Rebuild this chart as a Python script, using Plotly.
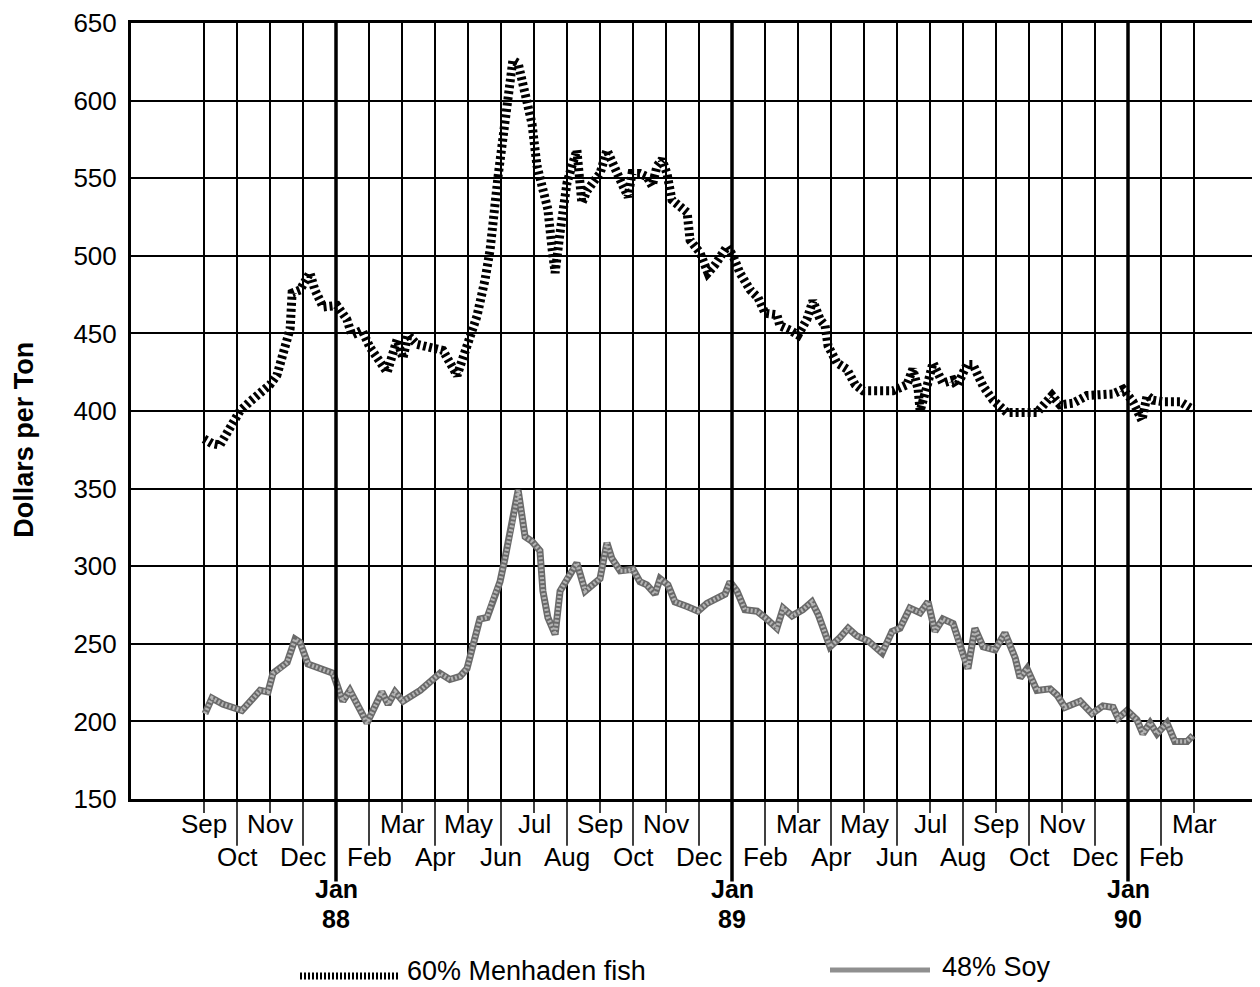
import plotly.graph_objects as go

# x = months since 1 Sep 1987 (0 = Sep 87, 4 = Jan 88, 16 = Jan 89, 28 = Jan 90)
month_names = ["Sep", "Oct", "Nov", "Dec", "Jan", "Feb", "Mar", "Apr", "May", "Jun", "Jul", "Aug",
               "Sep", "Oct", "Nov", "Dec", "Jan", "Feb", "Mar", "Apr", "May", "Jun", "Jul", "Aug",
               "Sep", "Oct", "Nov", "Dec", "Jan", "Feb", "Mar"]
year_labels = {4: "88", 16: "89", 28: "90"}
y_ticks = [150, 200, 250, 300, 350, 400, 450, 500, 550, 600, 650]

fish_month = [0.0, 0.24, 0.48, 0.79, 1.09, 1.39, 2.0, 2.21, 2.61, 2.67, 2.91, 3.21, 3.36, 3.61,
              4.03, 4.33, 4.48, 4.79, 5.03, 5.55, 5.85, 6.03, 6.18, 6.45, 6.85, 7.24, 7.67, 7.97,
              8.27, 8.52, 8.67, 8.91, 9.12, 9.36, 9.52, 9.73, 9.94, 10.09, 10.27, 10.42, 10.55,
              10.64, 10.79, 11.0, 11.15, 11.3, 11.45, 11.61, 11.85, 12.0, 12.21, 12.39, 12.61,
              12.85, 12.97, 13.21, 13.42, 13.58, 13.73, 13.88, 14.03, 14.18, 14.42, 14.64, 14.73,
              15.03, 15.27, 15.48, 15.85, 16.03, 16.24, 16.55, 16.79, 17.0, 17.36, 17.45, 17.76,
              18.0, 18.27, 18.45, 18.67, 18.82, 18.91, 19.18, 19.48, 19.73, 19.97, 20.88, 21.3,
              21.48, 21.64, 21.7, 21.91, 22.09, 22.39, 22.7, 22.82, 23.12, 23.3, 23.61, 23.91,
              24.33, 25.24, 25.42, 25.7, 25.94, 26.33, 26.76, 27.55, 27.85, 28.0, 28.15, 28.42,
              28.58, 28.76, 29.06, 29.58, 29.97]
fish_price = [382, 379, 378, 388, 400, 406, 417, 423, 453, 476, 478, 489, 478, 467,
              468, 459, 449, 452, 441, 425, 446, 434, 449, 443, 441, 439, 423, 442,
              461, 485, 504, 551, 590, 626, 624, 604, 585, 558, 542, 530, 504,
              489, 515, 547, 558, 568, 534, 542, 549, 553, 568, 558, 549,
              538, 553, 553, 551, 545, 558, 562, 553, 536, 532, 528, 510,
              502, 489, 494, 506, 500, 489, 478, 473, 463, 462, 455, 452,
              449, 459, 471, 459, 455, 442, 431, 427, 417, 413, 413, 417,
              427, 414, 400, 416, 431, 418, 420, 416, 430, 430, 416, 407,
              399, 399, 404, 410, 404, 405, 410, 411, 414, 410, 406, 394,
              410, 407, 406, 406, 401]

soy_month = [0.03, 0.24, 0.58, 1.15, 1.7, 1.94, 2.09, 2.3, 2.52, 2.76, 2.91, 3.15, 3.52, 3.91,
             4.12, 4.21, 4.42, 4.94, 5.39, 5.58, 5.79, 6.03, 6.55, 7.15, 7.45, 7.76, 7.97, 8.15,
             8.36, 8.58, 8.76, 8.97, 9.12, 9.36, 9.52, 9.73, 9.94, 10.18, 10.27, 10.42, 10.64,
             10.79, 11.0, 11.3, 11.55, 11.79, 12.0, 12.21, 12.36, 12.61, 12.85, 13.0, 13.21,
             13.42, 13.67, 13.82, 14.06, 14.27, 14.64, 14.97, 15.24, 15.55, 15.79, 15.94, 16.15,
             16.39, 16.76, 17.0, 17.36, 17.55, 17.82, 18.15, 18.42, 18.61, 18.97, 19.27, 19.52,
             19.79, 20.12, 20.55, 20.85, 21.09, 21.39, 21.7, 21.94, 22.15, 22.39, 22.7, 22.97,
             23.15, 23.36, 23.61, 23.97, 24.27, 24.58, 24.73, 24.94, 25.24, 25.64, 25.85, 26.09,
             26.55, 26.91, 27.24, 27.55, 27.7, 27.97, 28.27, 28.45, 28.67, 28.88, 29.18, 29.42,
             29.79, 29.97]
soy_price = [205, 215, 211, 207, 220, 219, 231, 234, 238, 253, 251, 237, 234, 231,
             218, 213, 220, 199, 219, 211, 219, 213, 220, 231, 227, 229, 234, 250,
             266, 267, 279, 290, 305, 329, 349, 319, 316, 310, 284, 267, 256,
             284, 292, 302, 284, 288, 292, 315, 305, 297, 297, 298, 290,
             288, 282, 292, 288, 277, 274, 271, 276, 279, 282, 290, 284,
             272, 271, 267, 260, 273, 268, 272, 277, 269, 248, 254, 260,
             255, 252, 244, 258, 260, 273, 270, 277, 258, 266, 263, 244,
             234, 260, 248, 246, 257, 241, 228, 234, 220, 221, 217, 209,
             213, 205, 210, 209, 202, 207, 201, 192, 199, 192, 199, 187,
             187, 191]

FONT = "Liberation Sans, Arial, Helvetica, sans-serif"

# the page puts the figure 8px in from the window corner; coordinates below are window pixels
OFF = 8
W, H = 1260 - OFF, 987 - OFF
L, R, T, B = 131, 1260, 19, 799


def px(xp):
    return (xp - L) / (R - L)


def py(yp):
    return (B - yp) / (B - T)


fig = go.Figure()

fig.add_trace(go.Scatter(x=fish_month, y=fish_price, mode="lines",
                         line=dict(color="black", width=9, dash="3px,3px"),
                         showlegend=False, hoverinfo="skip"))
fig.add_trace(go.Scatter(x=soy_month, y=soy_price, mode="lines",
                         line=dict(color="#6a6a6a", width=7),
                         showlegend=False, hoverinfo="skip"))
fig.add_trace(go.Scatter(x=soy_month, y=soy_price, mode="lines",
                         line=dict(color="#b4b4b4", width=4, dash="2px,2px"),
                         showlegend=False, hoverinfo="skip"))

shapes = []
annotations = []
for m, name in enumerate(month_names):
    if m in year_labels:
        # thick year line through the plot and down to the year label
        shapes.append(dict(type="line", xref="x", yref="paper", x0=m, x1=m, y0=1, y1=py(882),
                           line=dict(color="black", width=3.5)))
        annotations.append(dict(x=m, y=py(905), xref="x", yref="paper", xanchor="center",
                                yanchor="bottom", text="<b>Jan</b>", showarrow=False, borderpad=0,
                                font=dict(size=25, family=FONT, color="black")))
        annotations.append(dict(x=m, y=py(905), xref="x", yref="paper", xanchor="center",
                                yanchor="top", text="<b>%s</b>" % year_labels[m], showarrow=False,
                                borderpad=0, font=dict(size=25, family=FONT, color="black")))
    elif m % 2 == 0:
        shapes.append(dict(type="line", xref="x", yref="paper", x0=m, x1=m, y0=0, y1=py(813),
                           line=dict(color="black", width=1.5)))
        annotations.append(dict(x=m, y=py(824), xref="x", yref="paper", xanchor="center",
                                yanchor="middle", text=name, showarrow=False,
                                font=dict(size=26, family=FONT, color="black")))
    else:
        shapes.append(dict(type="line", xref="x", yref="paper", x0=m, x1=m, y0=0, y1=py(846),
                           line=dict(color="black", width=1.5)))
        annotations.append(dict(x=m, y=py(857), xref="x", yref="paper", xanchor="center",
                                yanchor="middle", text=name, showarrow=False,
                                font=dict(size=26, family=FONT, color="black")))

# legend drawn by hand below the chart
shapes.append(dict(type="line", xref="paper", yref="paper", x0=px(300), x1=px(400), y0=py(977), y1=py(977),
                   line=dict(color="black", width=7, dash="2px,2px")))
shapes.append(dict(type="line", xref="paper", yref="paper", x0=px(830), x1=px(930), y0=py(971), y1=py(971),
                   line=dict(color="#8f8f8f", width=5)))
annotations.append(dict(x=px(405), y=py(972), xref="paper", yref="paper", xanchor="left",
                        yanchor="middle", text="60% Menhaden fish", showarrow=False,
                        font=dict(size=27, family=FONT, color="black")))
annotations.append(dict(x=px(940), y=py(968), xref="paper", yref="paper", xanchor="left",
                        yanchor="middle", text="48% Soy", showarrow=False,
                        font=dict(size=27, family=FONT, color="black")))
annotations.append(dict(x=px(24), y=py(438), xref="paper", yref="paper", textangle=-90,
                        xanchor="center", yanchor="middle",
                        text="<b>Dollars per Ton</b>", showarrow=False,
                        font=dict(size=27, family=FONT, color="black")))

fig.update_layout(
    width=W, height=H,
    margin=dict(l=L - OFF, r=1260 - R, t=T - OFF, b=987 - B),
    paper_bgcolor="white", plot_bgcolor="white",
    font=dict(family=FONT, size=26, color="black"),
    shapes=shapes, annotations=annotations,
    xaxis=dict(range=[(L - 204) / 33, (R - 204) / 33], tickvals=list(range(len(month_names))),
               showticklabels=False, ticks="", showgrid=True, gridcolor="black", gridwidth=1.5,
               zeroline=False, showline=True, linecolor="black", linewidth=3, mirror=True),
    yaxis=dict(range=[150, 650], tickvals=y_ticks, ticks="", ticklabelstandoff=6,
               ticklabeloverflow="allow",
               showgrid=True, gridcolor="black", gridwidth=1.5, zeroline=False,
               showline=True, linecolor="black", linewidth=3,
               tickfont=dict(size=26, family=FONT, color="black")),
)

fig.write_html("out.html")
